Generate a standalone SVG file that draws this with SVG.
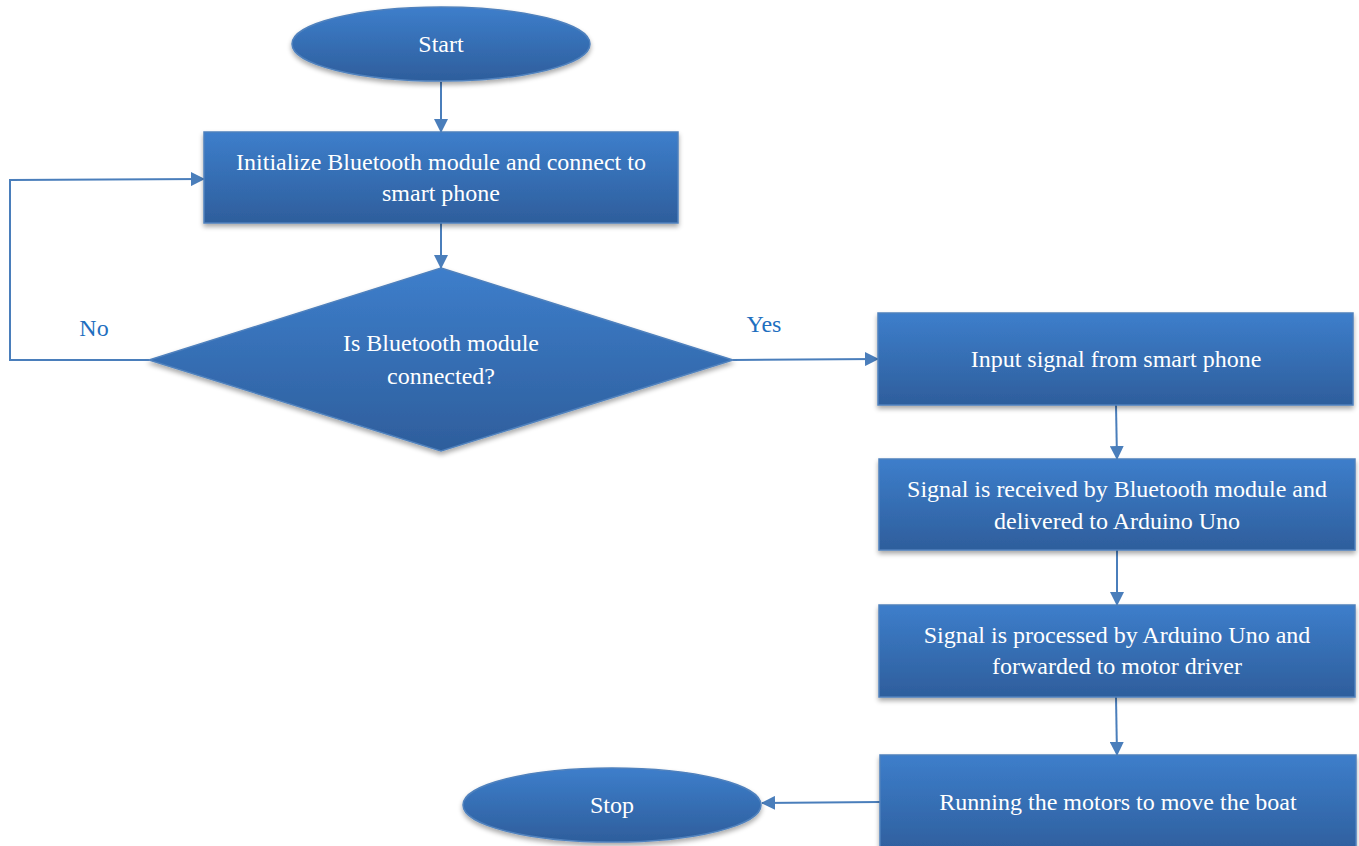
<svg xmlns="http://www.w3.org/2000/svg" width="1359" height="846" viewBox="0 0 1359 846">
<defs>
<linearGradient id="g" x1="0" y1="0" x2="0" y2="1">
<stop offset="0" stop-color="#3d7ecb"/>
<stop offset="1" stop-color="#2e5e9c"/>
</linearGradient>
<filter id="sh" x="-10%" y="-10%" width="120%" height="130%">
<feGaussianBlur in="SourceAlpha" stdDeviation="2.5"/>
<feOffset dx="0" dy="3" result="b"/>
<feComponentTransfer><feFuncA type="linear" slope="0.35"/></feComponentTransfer>
<feMerge><feMergeNode/><feMergeNode in="SourceGraphic"/></feMerge>
</filter>
<marker id="ah" markerWidth="14" markerHeight="14" refX="13" refY="7" orient="auto" markerUnits="userSpaceOnUse">
<path d="M0,0 L14,7 L0,14 Z" fill="#4a7ebb"/>
</marker>
</defs>
<style>
.n{fill:url(#g);stroke:#4f81bd;stroke-width:1.5;filter:url(#sh)}
.t{font-family:"Liberation Serif","Times New Roman",serif;font-size:24px;fill:#ffffff;text-anchor:middle}
.l{font-family:"Liberation Serif","Times New Roman",serif;font-size:24px;fill:#1f6fbf;text-anchor:middle}
.c{fill:none;stroke:#4a7ebb;stroke-width:2}
</style>
<g id="connectors">
<line class="c" x1="441" y1="82" x2="441" y2="132" marker-end="url(#ah)"/>
<line class="c" x1="441" y1="223" x2="441" y2="268" marker-end="url(#ah)"/>
<polyline class="c" points="149,360 10,360 10,180 204,179" marker-end="url(#ah)"/>
<line class="c" x1="733" y1="360" x2="878" y2="359" marker-end="url(#ah)"/>
<line class="c" x1="1116" y1="405" x2="1117" y2="459" marker-end="url(#ah)"/>
<line class="c" x1="1117" y1="550" x2="1117" y2="605" marker-end="url(#ah)"/>
<line class="c" x1="1116" y1="697" x2="1117" y2="755" marker-end="url(#ah)"/>
<line class="c" x1="880" y1="802" x2="762" y2="803" marker-end="url(#ah)"/>
<text class="l" x="94" y="336">No</text>
<text class="l" x="764" y="332">Yes</text>
</g>
<g id="start">
<ellipse class="n" cx="441" cy="44" rx="149" ry="37"/>
<text class="t" x="441" y="52">Start</text>
</g>
<g id="init">
<rect class="n" x="204" y="132" width="474" height="91"/>
<text class="t" x="441" y="170">Initialize Bluetooth module and connect to</text>
<text class="t" x="441" y="201">smart phone</text>
</g>
<g id="decision">
<polygon class="n" points="441,268 733,360 441,451 149,360"/>
<text class="t" x="441" y="351">Is Bluetooth module</text>
<text class="t" x="441" y="384">connected?</text>
</g>
<g id="input">
<rect class="n" x="878" y="313" width="475" height="92"/>
<text class="t" x="1116" y="367">Input signal from smart phone</text>
</g>
<g id="received">
<rect class="n" x="879" y="459" width="476" height="91"/>
<text class="t" x="1117" y="497">Signal is received by Bluetooth module and</text>
<text class="t" x="1117" y="529">delivered to Arduino Uno</text>
</g>
<g id="processed">
<rect class="n" x="879" y="605" width="476" height="92"/>
<text class="t" x="1117" y="643">Signal is processed by Arduino Uno and</text>
<text class="t" x="1117" y="674">forwarded to motor driver</text>
</g>
<g id="running">
<rect class="n" x="880" y="755" width="476" height="100"/>
<text class="t" x="1118" y="810">Running the motors to move the boat</text>
</g>
<g id="stop">
<ellipse class="n" cx="612" cy="805" rx="149" ry="37"/>
<text class="t" x="612" y="813">Stop</text>
</g>
</svg>
